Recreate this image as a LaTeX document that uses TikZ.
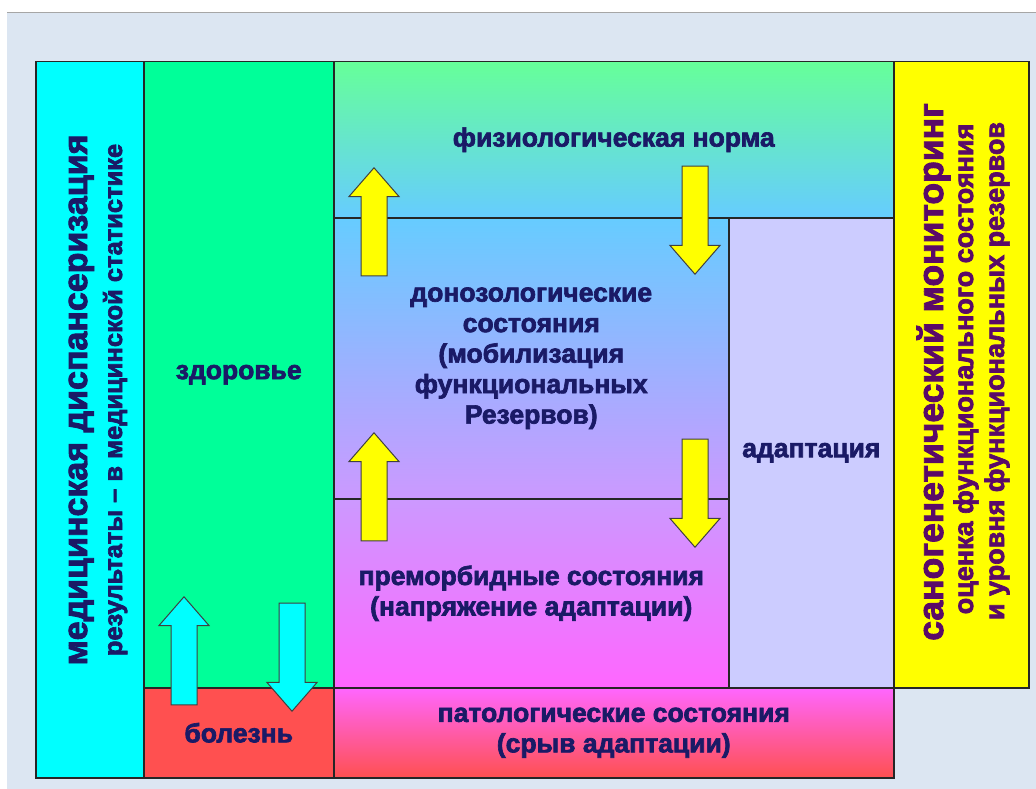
\documentclass[tikz,border=0pt]{standalone}
\usepackage{fontspec}
\setmainfont{Liberation Sans}[BoldFeatures={FakeBold=2.5}]
\usetikzlibrary{shapes.arrows}

\definecolor{pagebg}{HTML}{DCE6F2}
\definecolor{inkblue}{HTML}{1A1A66}
\definecolor{inkpurple}{HTML}{5A0A68}
\definecolor{colcyan}{HTML}{00FFFF}
\definecolor{colgreen}{HTML}{00FF99}
\definecolor{colred}{HTML}{FF5050}
\definecolor{normtop}{HTML}{66FF99}
\definecolor{normbot}{HTML}{66CCFF}
\definecolor{lilac}{HTML}{CC99FF}
\definecolor{pinky}{HTML}{FF66FF}
\definecolor{adapt}{HTML}{CCCCFF}
\definecolor{colyellow}{HTML}{FFFF00}

\begin{document}
\begin{tikzpicture}[
  x=1pt, y=-1pt,
  zone/.style   = {rectangle, draw=black!85, line width=1.5pt, inner sep=0pt,
                   anchor=north west, align=center, text=inkblue,
                   font=\bfseries\fontsize{26.5}{30.5}\selectfont},
  side/.style   = {rotate=90, anchor=base, inner sep=0pt, font=\bfseries},
  uparr/.style  = {single arrow, draw=black!75, line width=1pt, rotate=90,
                   anchor=tip, minimum height=108pt, minimum width=49pt,
                   inner sep=12.5pt, single arrow tip angle=82,
                   single arrow head extend=12pt},
  dnarr/.style  = {uparr, rotate=180},
]

%% ── Page ─────────────────────────────────────────────────────────────────
\useasboundingbox (0,0) rectangle (1036,789);
\fill[pagebg] (7,13) rectangle (1036,789);
\draw[black!35, line width=1pt] (7,12.5) -- (1036,12.5);

%% ── Zones ────────────────────────────────────────────────────────────────
\node[zone, fill=colcyan, minimum width=108pt, minimum height=716pt] (disp) at (35,61) {};
\node[zone, fill=colgreen, minimum width=190pt, minimum height=626pt] (health) at (143,61) {здоровье};
\node[zone, fill=colred, minimum width=190pt, minimum height=90pt] (ill) at (143,687) {болезнь};
\node[zone, top color=normtop, bottom color=normbot,
      minimum width=560pt, minimum height=156pt] (norm) at (333,61) {физиологическая норма};
\node[zone, top color=normbot, bottom color=lilac,
      minimum width=395pt, minimum height=281pt] (prenos) at (333,217)
      {донозологические\\состояния\\(мобилизация\\функциональных\\Резервов)};
\node[zone, top color=lilac, bottom color=pinky,
      minimum width=395pt, minimum height=189pt] (premorb) at (333,498)
      {преморбидные состояния\\(напряжение адаптации)};
\node[zone, fill=adapt, minimum width=165pt, minimum height=470pt] (adapt) at (728,217) {адаптация};
\node[zone, top color=pinky, bottom color=colred,
      minimum width=560pt, minimum height=90pt] (patho) at (333,687)
      {патологические состояния\\(срыв адаптации)};
\node[zone, fill=colyellow, minimum width=135pt, minimum height=626pt] (sano) at (893,61) {};

%% ── Side captions ────────────────────────────────────────────────────────
\node[side, text=inkblue, font=\bfseries\fontsize{34}{36}\selectfont] (disp1) at (87,400)
     {медицинская диспансеризация};
\node[side, text=inkblue, font=\bfseries\fontsize{25.5}{28}\selectfont] (disp2) at (122,400)
     {результаты – в медицинской статистике};
\node[side, text=inkpurple, font=\bfseries\fontsize{35.5}{38}\selectfont] (sano1) at (943,372)
     {саногенетический мониторинг};
\node[side, text=inkpurple, font=\bfseries\fontsize{27}{30}\selectfont] (sano2) at (973,369)
     {оценка функционального состояния};
\node[side, text=inkpurple, font=\bfseries\fontsize{27}{30}\selectfont] (sano3) at (1004,371)
     {и уровня функциональных резервов};

%% ── Transition arrows ────────────────────────────────────────────────────
\node[uparr, fill=colyellow] (up1) at (374,167) {};
\node[dnarr, fill=colyellow] (dn1) at (695,275) {};
\node[uparr, fill=colyellow] (up2) at (374,432) {};
\node[dnarr, fill=colyellow] (dn2) at (695,548) {};
\node[uparr, fill=colcyan]   (up3) at (184,596) {};
\node[dnarr, fill=colcyan]   (dn3) at (292,712) {};

\end{tikzpicture}
\end{document}
